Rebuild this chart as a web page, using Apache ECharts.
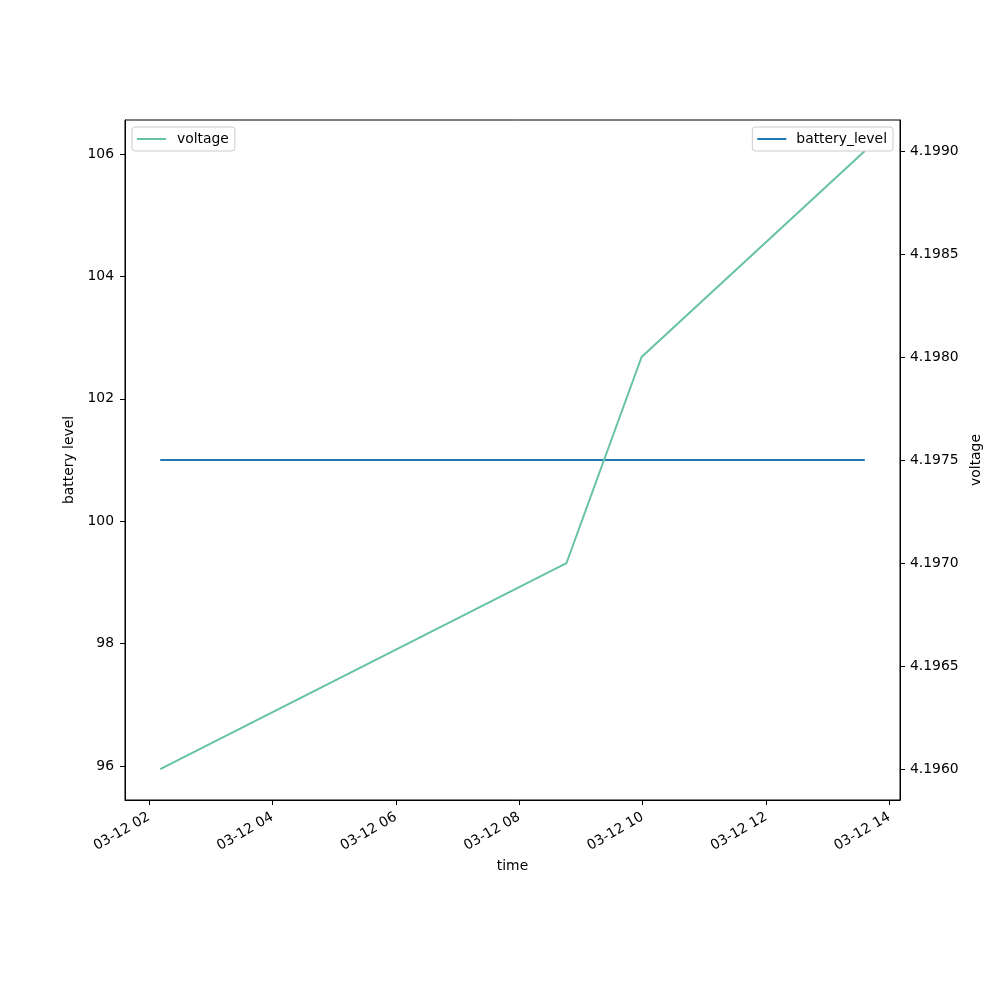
<!DOCTYPE html>
<html>
<head>
<meta charset="utf-8">
<script src="https://cdn.jsdelivr.net/npm/echarts@6/dist/echarts.min.js"></script>
<style>html,body{margin:0;padding:0;background:#fff}#c{width:1000px;height:1000px}</style>
</head>
<body>
<div id="c"></div>
<script>
// Data
const times = ['02:11', '08:46', '09:59', '13:36'];           // on 03-12
const batteryLevel = [101, 101, 101, 101];
const voltage = [4.1960, 4.1970, 4.1980, 4.1990];
const xTickHours = [2, 4, 6, 8, 10, 12, 14];
const leftTicks = [96, 98, 100, 102, 104, 106];
const rightTicks = [4.1960, 4.1965, 4.1970, 4.1975, 4.1980, 4.1985, 4.1990];

function toHours(t) { const p = t.split(':'); return +p[0] + (+p[1]) / 60; }
const xs = times.map(toHours);
const xMinData = Math.min(...xs), xMaxData = Math.max(...xs);
const xSpan = xMaxData - xMinData;

const pad = n => (n < 10 ? '0' : '') + n;
const FS = 13.9;
const FONT = 'DejaVu Sans';

const chart = echarts.init(document.getElementById('c'), null, { renderer: 'canvas' });
chart.setOption({
  animation: false,
  backgroundColor: '#fff',
  textStyle: { fontFamily: FONT, color: '#000' },
  grid: { left: 125, right: 100, top: 120, bottom: 200, show: true, borderColor: '#000', borderWidth: 1, backgroundColor: 'transparent' },
  legend: [
    {
      data: ['voltage'], left: 132, top: 127, orient: 'vertical',
      icon: 'rect', itemWidth: 29, itemHeight: 2, itemGap: 10,
      padding: [5, 6, 5, 5], borderColor: '#cccccc', borderWidth: 1, borderRadius: 3,
      backgroundColor: 'rgba(255,255,255,0.8)',
      textStyle: { fontFamily: FONT, fontSize: FS, color: '#000', padding: [0, 0, 0, 6] }
    },
    {
      data: ['battery_level'], right: 107, top: 127, orient: 'vertical',
      icon: 'rect', itemWidth: 29, itemHeight: 2, itemGap: 10,
      padding: [5, 6, 5, 5], borderColor: '#cccccc', borderWidth: 1, borderRadius: 3,
      backgroundColor: 'rgba(255,255,255,0.8)',
      textStyle: { fontFamily: FONT, fontSize: FS, color: '#000', padding: [0, 0, 0, 5] }
    }
  ],
  xAxis: {
    type: 'value',
    min: xMinData - 0.05 * xSpan,
    max: xMaxData + 0.05 * xSpan,
    name: 'time', nameLocation: 'middle', nameGap: 58,
    nameTextStyle: { fontFamily: FONT, fontSize: FS, color: '#000' },
    axisLine: { show: true, lineStyle: { color: '#000', width: 1 } },
    axisTick: { show: true, length: 5, lineStyle: { color: '#000' }, customValues: xTickHours },
    axisLabel: {
      customValues: xTickHours, rotate: 30, margin: 16,
      fontFamily: FONT, fontSize: FS, color: '#000',
      formatter: v => '03-12 ' + pad(Math.round(v))
    },
    splitLine: { show: false }
  },
  yAxis: [
    {
      type: 'value', position: 'left',
      min: 95.445, max: 106.555,
      name: 'battery level', nameLocation: 'middle', nameGap: 44, nameRotate: 90,
      nameTextStyle: { fontFamily: FONT, fontSize: FS, color: '#000' },
      axisLine: { show: true, lineStyle: { color: '#000', width: 1 } },
      axisTick: { show: true, length: 5, lineStyle: { color: '#000' }, customValues: leftTicks },
      axisLabel: { customValues: leftTicks, margin: 11, fontFamily: FONT, fontSize: FS, color: '#000' },
      splitLine: { show: false }
    },
    {
      type: 'value', position: 'right',
      min: 4.19585, max: 4.19915,
      name: 'voltage', nameLocation: 'middle', nameGap: 64, nameRotate: 90,
      nameTextStyle: { fontFamily: FONT, fontSize: FS, color: '#000' },
      axisLine: { show: true, lineStyle: { color: '#000', width: 1 } },
      axisTick: { show: true, length: 5, lineStyle: { color: '#000' }, customValues: rightTicks },
      axisLabel: { customValues: rightTicks, margin: 10, fontFamily: FONT, fontSize: FS, color: '#000',
        formatter: v => v.toFixed(4) },
      splitLine: { show: false }
    }
  ],
  series: [
    {
      name: 'battery_level', type: 'line', yAxisIndex: 0,
      data: xs.map((x, i) => [x, batteryLevel[i]]),
      showSymbol: false, symbol: 'none',
      lineStyle: { color: '#1f77b4', width: 2 }, itemStyle: { color: '#1f77b4' }, z: 2
    },
    {
      name: 'voltage', type: 'line', yAxisIndex: 1,
      data: xs.map((x, i) => [x, voltage[i]]),
      showSymbol: false, symbol: 'none',
      lineStyle: { color: '#66c2a5', width: 2 }, itemStyle: { color: '#66c2a5' }, z: 3
    }
  ]
});
</script>
</body>
</html>
